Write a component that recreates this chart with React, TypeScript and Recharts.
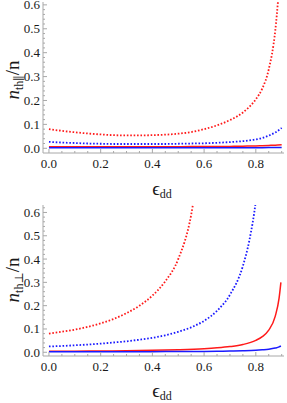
import { LineChart, Line, XAxis, YAxis } from 'recharts'

const RED = '#ff1a1a'
const BLUE = '#1a1aff'
const FRAME = '#a8a8a8'
const INK = '#1a1a1a'
const FONT = 'Liberation Serif, DejaVu Serif, serif'

// ticks (major ones get a label)
const xTicks = [0, 0.05, 0.1, 0.15, 0.2, 0.25, 0.3, 0.35, 0.4, 0.45, 0.5, 0.55, 0.6, 0.65, 0.7, 0.75, 0.8, 0.85, 0.9]
const yTicksTop = [0, 0.02, 0.04, 0.06, 0.08, 0.1, 0.12, 0.14, 0.16, 0.18, 0.2, 0.22, 0.24, 0.26, 0.28, 0.3, 0.32, 0.34, 0.36, 0.38, 0.4, 0.42, 0.44, 0.46, 0.48, 0.5, 0.52, 0.54, 0.56, 0.58, 0.6]
const yTicksBottom = [...yTicksTop, 0.62]

// upper panel: n_th∥ / n
const parX = [0, 0.05, 0.1, 0.15, 0.2, 0.25, 0.3, 0.35, 0.4, 0.45, 0.5, 0.55, 0.6, 0.65, 0.7, 0.75, 0.8, 0.825, 0.85, 0.875, 0.9]
const parRedDotted = [0.08, 0.073, 0.067, 0.062, 0.058, 0.055, 0.054, 0.054, 0.055, 0.057, 0.061, 0.068, 0.08, 0.096, 0.118, 0.15, 0.205, 0.25, 0.33, 0.49, 0.82]
const parBlueDotted = [0.027, 0.024, 0.022, 0.02, 0.019, 0.018, 0.018, 0.018, 0.018, 0.018, 0.019, 0.02, 0.021, 0.023, 0.026, 0.03, 0.037, 0.043, 0.053, 0.066, 0.085]
const parRedSolid = [0.006, 0.006, 0.006, 0.006, 0.006, 0.006, 0.006, 0.006, 0.006, 0.006, 0.0065, 0.007, 0.007, 0.0075, 0.008, 0.009, 0.01, 0.011, 0.012, 0.013, 0.015]
const parBlueSolid = [0.002, 0.002, 0.002, 0.002, 0.002, 0.002, 0.002, 0.002, 0.002, 0.002, 0.002, 0.002, 0.002, 0.002, 0.0022, 0.0024, 0.0026, 0.0027, 0.0028, 0.003, 0.0032]

// lower panel: n_th⊥ / n
const perpDotX = [0, 0.05, 0.1, 0.15, 0.2, 0.25, 0.3, 0.35, 0.4, 0.45, 0.5, 0.55, 0.6]
const perpRedDotted = [0.08, 0.088, 0.097, 0.109, 0.124, 0.143, 0.168, 0.2, 0.243, 0.305, 0.4, 0.59, 1.0]
const perpBlueX = [0, 0.05, 0.1, 0.15, 0.2, 0.25, 0.3, 0.35, 0.4, 0.45, 0.5, 0.55, 0.6, 0.65, 0.7, 0.75, 0.775, 0.8, 0.825]
const perpBlueDotted = [0.025, 0.027, 0.03, 0.033, 0.037, 0.042, 0.047, 0.054, 0.062, 0.073, 0.088, 0.107, 0.135, 0.178, 0.247, 0.37, 0.48, 0.65, 0.94]
const perpSolidX = [0, 0.1, 0.2, 0.3, 0.4, 0.5, 0.6, 0.65, 0.7, 0.75, 0.8, 0.825, 0.85, 0.875, 0.89, 0.897]
const perpRedSolid = [0.004, 0.0046, 0.0055, 0.0066, 0.0083, 0.0109, 0.0153, 0.019, 0.0244, 0.0333, 0.051, 0.067, 0.095, 0.154, 0.232, 0.3]
const perpBlueSolid = [0.002, 0.002, 0.0022, 0.0024, 0.0027, 0.003, 0.0037, 0.0043, 0.005, 0.0063, 0.0085, 0.0105, 0.013, 0.018, 0.023, 0.027]

const pts = (xs: number[], ys: number[]) => xs.map((x, i) => ({ x, y: ys[i] }))

const isMajorX = (v: number) => Math.round(v * 20) % 4 === 0
const isMajorY = (v: number) => Math.round(v * 50) % 5 === 0

const serif = { fontFamily: FONT }

const BottomTick = ({ x, y, payload }: any) => {
  const major = isMajorX(payload.value)
  return (
    <g>
      <line x1={x} x2={x} y1={y} y2={y - (major ? 4 : 2)} stroke={FRAME} />
      {major && (
        <text x={x} y={y + 14.5} textAnchor="middle" fontSize={13} style={serif} fill={INK}>
          {payload.value.toFixed(1)}
        </text>
      )}
    </g>
  )
}

const TopTick = ({ x, y, payload }: any) => {
  const major = isMajorX(payload.value)
  return <line x1={x} x2={x} y1={y} y2={y + (major ? 4 : 2)} stroke={FRAME} />
}

const LeftTick = ({ x, y, payload }: any) => {
  const major = isMajorY(payload.value)
  return (
    <g>
      <line x1={x} x2={x + (major ? 4 : 2)} y1={y} y2={y} stroke={FRAME} />
      {major && (
        <text x={x - 3} y={y + 4.5} textAnchor="end" fontSize={13} style={serif} fill={INK}>
          {payload.value.toFixed(1)}
        </text>
      )}
    </g>
  )
}

const RightTick = ({ x, y, payload }: any) => {
  const major = isMajorY(payload.value)
  return <line x1={x} x2={x - (major ? 4 : 2)} y1={y} y2={y} stroke={FRAME} />
}

const dotted = { strokeWidth: 1.8, strokeDasharray: '1.6 1.8' }
const solid = { strokeWidth: 1.5 }

function Panel({ yDomain, yTicks, series }: any) {
  return (
    <LineChart width={287} height={200} margin={{ top: 2, right: 3, bottom: 0, left: 0 }}>
      <XAxis xAxisId="b" type="number" dataKey="x" domain={[-0.023, 0.909]} allowDataOverflow
        ticks={xTicks} interval={0} tickSize={0} tickMargin={0} tickLine={false}
        axisLine={{ stroke: FRAME }} tick={<BottomTick />} height={47} />
      <XAxis xAxisId="t" orientation="top" type="number" dataKey="x" domain={[-0.023, 0.909]} allowDataOverflow
        ticks={xTicks} interval={0} tickSize={0} tickMargin={0} tickLine={false}
        axisLine={{ stroke: FRAME }} tick={<TopTick />} height={0} />
      <YAxis yAxisId="l" type="number" domain={yDomain} allowDataOverflow
        ticks={yTicks} interval={0} tickSize={0} tickMargin={0} tickLine={false}
        axisLine={{ stroke: FRAME }} tick={<LeftTick />} width={43} />
      <YAxis yAxisId="r" orientation="right" type="number" domain={yDomain} allowDataOverflow
        ticks={yTicks} interval={0} tickSize={0} tickMargin={0} tickLine={false}
        axisLine={{ stroke: FRAME }} tick={<RightTick />} width={0} />
      {series.map((s: any) => (
        <Line key={s.key} xAxisId="b" yAxisId="l" data={s.data} dataKey="y" type="monotone"
          stroke={s.color} dot={false} activeDot={false} isAnimationActive={false}
          strokeLinecap="butt" {...s.style} />
      ))}
    </LineChart>
  )
}

const topSeries = [
  { key: 'rs', data: pts(parX, parRedSolid), color: RED, style: solid },
  { key: 'bs', data: pts(parX, parBlueSolid), color: BLUE, style: solid },
  { key: 'bd', data: pts(parX, parBlueDotted), color: BLUE, style: dotted },
  { key: 'rd', data: pts(parX, parRedDotted), color: RED, style: dotted },
]

const bottomSeries = [
  { key: 'rs', data: pts(perpSolidX, perpRedSolid), color: RED, style: solid },
  { key: 'bs', data: pts(perpSolidX, perpBlueSolid), color: BLUE, style: solid },
  { key: 'bd', data: pts(perpBlueX, perpBlueDotted), color: BLUE, style: dotted },
  { key: 'rd', data: pts(perpDotX, perpRedDotted), color: RED, style: dotted },
]

export default function App() {
  return (
    <div style={{ position: 'absolute', left: 0, top: 0, width: 287, height: 403, background: '#fff', overflow: 'hidden', fontFamily: FONT }}>
      <div style={{ position: 'absolute', left: 0, top: 0 }}>
        <Panel yDomain={[-0.0197, 0.612]} yTicks={yTicksTop} series={topSeries} />
      </div>
      <div style={{ position: 'absolute', left: 0, top: 203 }}>
        <Panel yDomain={[-0.016, 0.632]} yTicks={yTicksBottom} series={bottomSeries} />
      </div>
      <svg width={287} height={403} style={{ position: 'absolute', left: 0, top: 0, pointerEvents: 'none' }}>
        <g style={serif} fill={INK}>
          <text transform="translate(19,80) rotate(-90)" textAnchor="middle">
            <tspan fontSize={19} fontStyle="italic">n</tspan>
            <tspan fontSize={12} dy={4}>th∥</tspan>
            <tspan fontSize={19} dy={-4}>/n</tspan>
          </text>
          <text transform="translate(19,280) rotate(-90)" textAnchor="middle">
            <tspan fontSize={19} fontStyle="italic">n</tspan>
            <tspan fontSize={12} dy={4}>th⊥</tspan>
            <tspan fontSize={19} dy={-4}>/n</tspan>
          </text>
          <text x={162} y={195} textAnchor="middle">
            <tspan fontSize={19}>ϵ</tspan>
            <tspan fontSize={12} dy={3}>dd</tspan>
          </text>
          <text x={162} y={397} textAnchor="middle">
            <tspan fontSize={19}>ϵ</tspan>
            <tspan fontSize={12} dy={3}>dd</tspan>
          </text>
        </g>
      </svg>
    </div>
  )
}
